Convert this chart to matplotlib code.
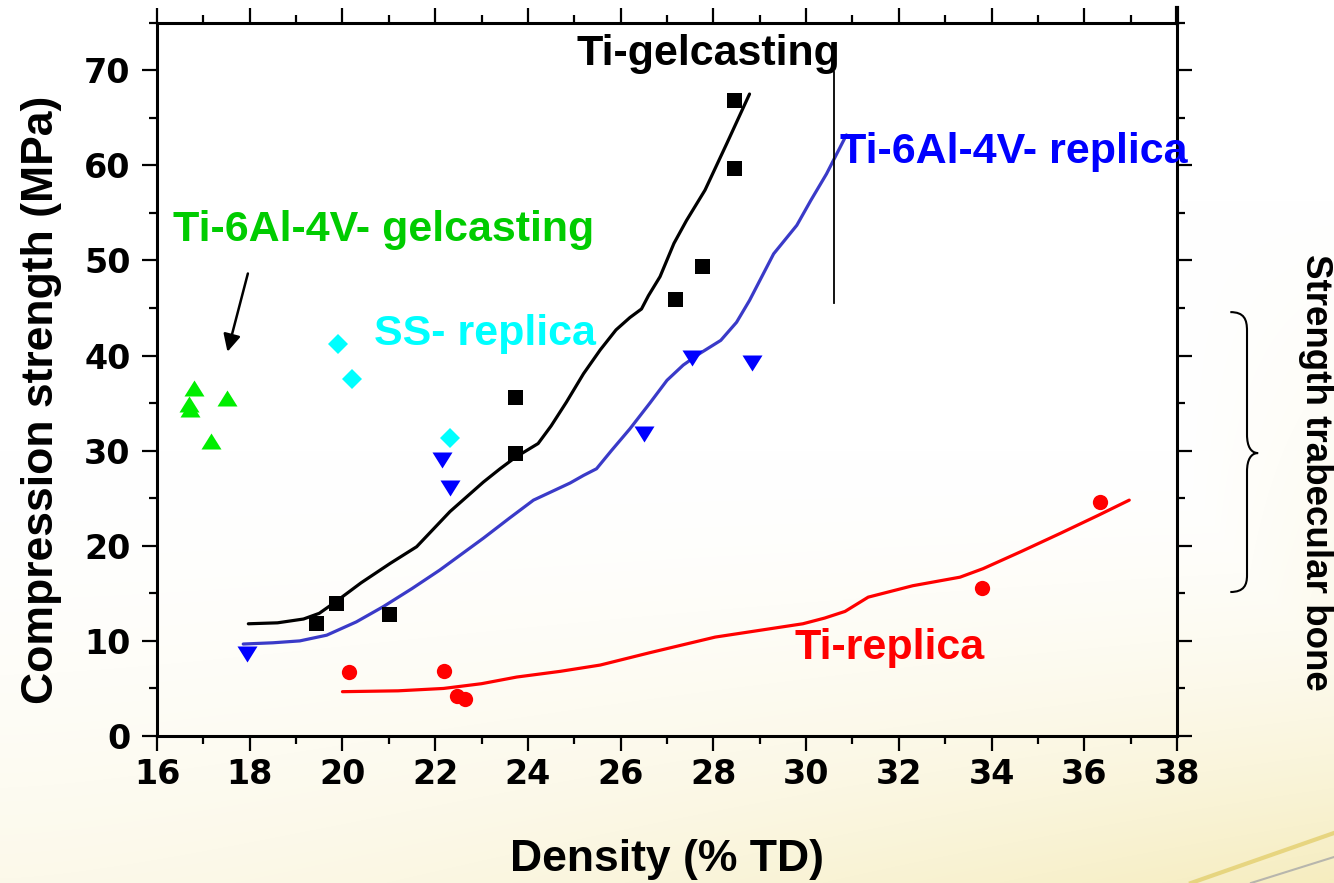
import matplotlib
matplotlib.use("Agg")
import matplotlib.pyplot as plt
import numpy as np
from matplotlib.ticker import MultipleLocator
from matplotlib.path import Path
from matplotlib.patches import PathPatch
from matplotlib.lines import Line2D

# measured points (density %TD, compression strength MPa)
ti_gel_x = [19.44, 19.85, 21.0, 23.72, 23.72, 27.17, 27.75, 28.45, 28.45]
ti_gel_y = [11.85, 14.0, 12.8, 29.8, 35.6, 45.9, 49.4, 59.7, 66.85]

tiv_rep_x = [17.95, 22.15, 22.31, 26.51, 27.53, 28.83]
tiv_rep_y = [8.6, 29.0, 26.1, 31.8, 39.7, 39.2]

ss_rep_x = [19.91, 20.2, 22.31]
ss_rep_y = [41.2, 37.5, 31.3]

tiv_gel_x = [16.68, 16.72, 16.79, 17.16, 17.51]
tiv_gel_y = [34.9, 34.4, 36.6, 31.0, 35.5]

ti_rep_x = [20.15, 22.2, 22.46, 22.64, 33.79, 36.34]
ti_rep_y = [6.76, 6.87, 4.24, 3.9, 15.6, 24.6]

# trend curves
ti_gel_fit_x = [17.97, 18.6, 19.16, 19.5, 19.85, 20.4, 21.03, 21.6, 22.32, 23.04, 23.4,
                23.73, 24.0, 24.22, 24.5, 24.83, 25.2, 25.56, 25.9, 26.2, 26.45, 26.6,
                26.85, 27.15, 27.42, 27.82, 28.29, 28.78]
ti_gel_fit_y = [11.8, 11.9, 12.3, 12.9, 14.1, 16.1, 18.15, 19.9, 23.6, 26.7, 28.1,
                29.3, 30.1, 30.75, 32.6, 35.1, 38.1, 40.6, 42.7, 44.0, 44.9, 46.3,
                48.3, 51.8, 54.2, 57.4, 62.3, 67.5]

tiv_rep_fit_x = [17.86, 18.5, 19.08, 19.66, 20.3, 20.88, 21.5, 22.1, 23.04, 23.6, 24.12,
                 24.91, 25.2, 25.48, 25.8, 26.2, 26.63, 27.0, 27.35, 27.7, 28.16, 28.5,
                 28.78, 29.3, 29.8, 30.1, 30.44, 30.87]
tiv_rep_fit_y = [9.67, 9.8, 10.0, 10.6, 12.0, 13.6, 15.5, 17.45, 20.8, 22.9, 24.8,
                 26.6, 27.4, 28.1, 30.0, 32.3, 35.0, 37.4, 39.0, 40.2, 41.6, 43.5,
                 45.8, 50.7, 53.7, 56.3, 59.1, 63.2]

ti_rep_fit_x = [20.0, 21.2, 22.18, 23.0, 23.76, 24.7, 25.56, 26.63, 28.04, 29.93, 30.4,
                30.84, 31.34, 32.3, 33.32, 33.82, 34.64, 35.48, 36.3, 36.97]
ti_rep_fit_y = [4.66, 4.75, 5.0, 5.5, 6.2, 6.8, 7.46, 8.76, 10.4, 11.8, 12.4,
                13.1, 14.6, 15.8, 16.7, 17.6, 19.4, 21.3, 23.2, 24.8]

plt.rcParams['font.family'] = ['Liberation Sans', 'DejaVu Sans']
plt.rcParams['font.weight'] = 'bold'
plt.rcParams['axes.labelweight'] = 'bold'

fig = plt.figure(figsize=(13.34, 8.83), dpi=100)

# slide-like background: white on top, pale yellow toward the bottom right
H, W = 883, 1334
yy, xx = np.mgrid[0:H, 0:W]
v = np.clip((yy - 450) / 433, 0, 1) ** 1.7
t = v * (0.3 + 0.6 * (xx / W) ** 1.5)
t = np.maximum(t, np.clip((xx - 1180) / 154, 0, 1) * np.clip((yy - 200) / 683, 0, 1) * 0.4)
top_c = np.array([1.0, 1.0, 1.0])
bot_c = np.array([0.96, 0.92, 0.72])
bg = top_c + (bot_c - top_c) * t[..., None]
bg_ax = fig.add_axes([0, 0, 1, 1], zorder=-1)
bg_ax.imshow(bg, aspect='auto', interpolation='bilinear')
bg_ax.axis('off')
fig.add_artist(Line2D([1191 / W, 1.0], [0.0, 50 / H], color='#e3cf6e', lw=3, alpha=0.8))
fig.add_artist(Line2D([1251 / W, 1.0], [0.0, 26 / H], color='#a8a8a8', lw=1.5, alpha=0.8))

ax = fig.add_axes([157 / W, 147 / H, 1020 / W, 713.3 / H])
ax.set_facecolor('none')

line_kw = dict(lw=2.3, solid_joinstyle='round', solid_capstyle='round')
ax.plot(ti_gel_fit_x, ti_gel_fit_y, color='black', **line_kw)
ax.plot(tiv_rep_fit_x, tiv_rep_fit_y, color='#3a3ac8', **line_kw)
ax.plot(ti_rep_fit_x, ti_rep_fit_y, color='#ff0000', **line_kw)

tri_down = [(-1, 0.8), (1, 0.8), (0, -0.8)]
tri_up = [(-1, -0.8), (1, -0.8), (0, 0.8)]
ax.plot(ti_gel_x, ti_gel_y, 's', color='black', ms=10.8, mew=0)
ax.plot(tiv_rep_x, tiv_rep_y, marker=tri_down, ls='none', color='#0000ff', ms=14.4, mew=0)
ax.plot(ss_rep_x, ss_rep_y, 'D', color='#00ffff', ms=10.5, mew=0)
ax.plot(tiv_gel_x, tiv_gel_y, marker=tri_up, ls='none', color='#00ee00', ms=14.4, mew=0)
ax.plot(ti_rep_x, ti_rep_y, 'o', color='#ff0000', ms=11, mew=0)

ax.text(25.05, 70.5, 'Ti-gelcasting', color='black', fontsize=31, va='baseline')
ax.text(30.73, 60.3, 'Ti-6Al-4V- replica', color='#0000ff', fontsize=31, va='baseline')
ax.text(16.34, 52.06, 'Ti-6Al-4V- gelcasting', color='#00cc00', fontsize=31, va='baseline')
ax.text(20.68, 41.1, 'SS- replica', color='#00ffff', fontsize=31, va='baseline')
ax.text(29.75, 8.06, 'Ti-replica', color='#ff0000', fontsize=31, va='baseline')

ax.annotate('', xy=(17.52, 40.4), xytext=(17.96, 48.63),
            arrowprops=dict(arrowstyle='-|>', color='black', lw=1.8,
                            mutation_scale=26, shrinkA=0, shrinkB=0))

# stray frame line left in the original figure
ax.plot([30.6, 30.6], [45.5, 69.8], color='black', lw=1.3)
ax.plot([38, 38], [75, 76.5], color='black', lw=3, clip_on=False)

# brace marking the trabecular bone range
brace = Path([(39.15, 44.57), (39.45, 44.57), (39.51, 43.8), (39.51, 42.6),
              (39.51, 31.7),
              (39.51, 30.4), (39.6, 29.75), (39.75, 29.75),
              (39.6, 29.75), (39.51, 29.1), (39.51, 27.8),
              (39.51, 16.9),
              (39.51, 15.9), (39.45, 15.14), (39.15, 15.14)],
             [Path.MOVETO, Path.CURVE4, Path.CURVE4, Path.CURVE4,
              Path.LINETO,
              Path.CURVE4, Path.CURVE4, Path.CURVE4,
              Path.CURVE4, Path.CURVE4, Path.CURVE4,
              Path.LINETO,
              Path.CURVE4, Path.CURVE4, Path.CURVE4])
ax.add_patch(PathPatch(brace, facecolor='none', edgecolor='black', lw=1.5, clip_on=False))
fig.text(1315 / W, 1 - 472 / H, 'Strength trabecular bone', rotation=-90,
         ha='center', va='center', fontsize=26.5)

ax.set_xlim(16, 38)
ax.set_ylim(0, 75)
ax.xaxis.set_major_locator(MultipleLocator(2))
ax.xaxis.set_minor_locator(MultipleLocator(1))
ax.yaxis.set_major_locator(MultipleLocator(10))
ax.yaxis.set_minor_locator(MultipleLocator(5))
ax.tick_params(which='both', direction='out', top=True, right=True, width=1.6,
               labelsize=24, labelfontfamily='DejaVu Sans')
ax.tick_params(which='major', length=11)
ax.tick_params(which='minor', length=6)
ax.tick_params(axis='x', pad=5)
ax.tick_params(axis='y', pad=8)
for s in ax.spines.values():
    s.set_linewidth(2.2)

ax.set_xlabel('Density (% TD)', fontsize=32, fontweight='bold', va='baseline')
ax.xaxis.set_label_coords(0.5, (736 - 871) / 713.3)
ax.set_ylabel('Compression strength (MPa)', fontsize=32, fontweight='bold', va='baseline')
ax.yaxis.set_label_coords((53 - 157) / 1020, (736 - 400) / 713.3)

fig.savefig('out.png', dpi=100)
